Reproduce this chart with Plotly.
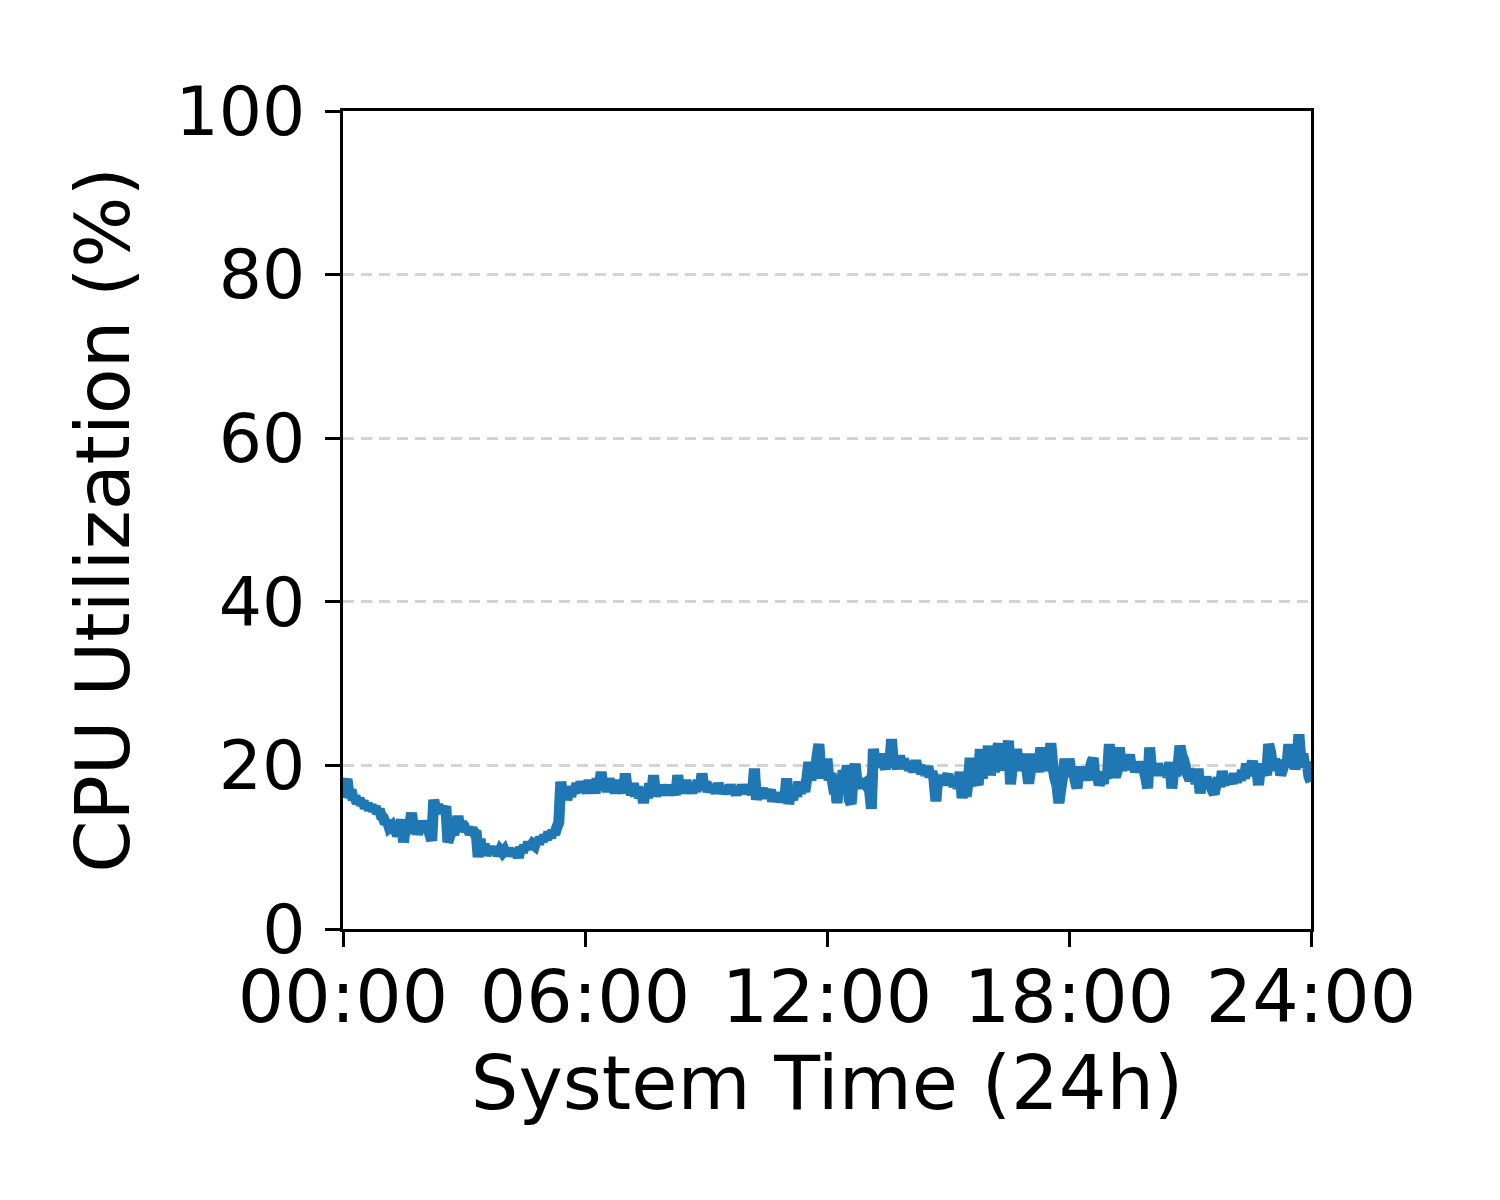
import numpy as np
import plotly.graph_objects as go

# sampling grid: one sample every 0.05 h (3 min), 00:00 .. 24:00
hours = np.round(np.arange(481) * 0.05, 2)

cpu = [
    # 00h
    16.0, 17.6, 18.3, 16.4, 17.0, 15.8, 16.2, 15.4, 15.9, 15.2, 15.6, 14.8, 15.3, 14.6, 15.1, 14.5, 14.9, 14.2, 14.6, 13.8,
    # 01h
    13.6, 12.9, 13.2, 12.4, 12.6, 11.8, 12.2, 11.4, 12.0, 13.4, 10.6, 12.6, 11.8, 12.4, 14.2, 12.2, 12.8, 11.6, 12.4, 12.0,
    # 02h
    13.2, 12.4, 12.8, 11.6, 10.8, 15.8, 14.6, 15.2, 14.2, 14.8, 14.4, 15.0, 10.6, 11.4, 12.0, 11.6, 12.4, 13.8, 12.2, 12.9,
    # 03h
    12.6, 12.0, 12.4, 11.6, 12.2, 11.8, 12.0, 8.8, 11.0, 9.2, 10.4, 9.0, 9.8, 9.4, 10.0, 9.2, 9.8, 9.0, 9.6, 9.3,
    # 04h
    9.6, 9.0, 9.8, 9.2, 9.6, 9.0, 9.8, 8.7, 10.0, 9.4, 10.2, 9.8, 10.6, 10.0, 10.4, 10.2, 11.0, 10.4, 11.2, 10.8,
    # 05h
    11.4, 11.0, 11.8, 11.2, 12.0, 11.6, 12.4, 13.0, 18.0, 16.2, 17.4, 15.8, 16.8, 16.2, 17.4, 16.6, 17.8, 16.8, 18.0, 17.2,
    # 06h
    17.6, 16.6, 18.2, 16.8, 17.8, 16.6, 18.4, 17.0, 19.2, 17.2, 18.0, 16.8, 18.4, 17.0, 17.8, 16.6, 18.2, 16.8, 17.6, 16.6,
    # 07h
    19.0, 17.0, 17.6, 16.4, 17.8, 16.2, 17.4, 16.0, 17.0, 15.4, 17.2, 16.0, 17.8, 16.4, 18.8, 16.2, 17.4, 16.4, 17.6, 16.6,
    # 08h
    17.4, 16.4, 17.6, 16.6, 17.2, 16.4, 18.8, 16.8, 17.8, 16.6, 18.2, 16.8, 17.6, 16.6, 17.8, 16.8, 18.2, 17.0, 19.0, 17.2,
    # 09h
    18.0, 16.8, 17.6, 16.8, 17.4, 16.6, 17.8, 16.8, 17.4, 16.6, 17.2, 16.6, 17.6, 16.8, 17.2, 16.4, 17.4, 16.6, 17.6, 16.8,
    # 10h
    17.2, 16.6, 17.6, 16.4, 19.6, 15.8, 17.0, 16.2, 17.2, 16.0, 16.8, 16.4, 17.0, 15.6, 16.6, 15.8, 16.4, 15.6, 16.2, 15.8,
    # 11h
    18.4, 15.3, 16.6, 15.8, 17.2, 16.2, 18.0, 16.6, 17.6, 16.8, 18.4, 20.4, 18.2, 19.6, 18.4, 21.0, 22.6, 18.8, 20.6, 18.4,
    # 12h
    20.8, 18.2, 19.0, 17.6, 17.8, 15.4, 18.6, 17.2, 19.4, 18.0, 20.0, 15.8, 15.3, 18.4, 20.2, 17.6, 18.4, 17.2, 18.2, 17.8,
    # 13h
    18.0, 17.2, 14.7, 22.0, 20.2, 21.0, 19.8, 21.4, 20.2, 19.6, 21.0, 19.8, 23.2, 19.8, 20.4, 19.6, 21.2, 19.8, 20.8, 19.6,
    # 14h
    20.4, 19.4, 20.2, 19.2, 20.6, 19.4, 20.0, 19.0, 19.8, 18.8, 19.9, 18.6, 19.2, 18.4, 15.6, 18.8, 17.6, 18.6, 17.8, 18.4,
    # 15h
    18.9, 17.6, 18.6, 17.4, 18.4, 17.2, 19.2, 16.0, 18.2, 16.2, 18.0, 20.9, 18.6, 19.4, 18.2, 17.6, 22.0, 18.4, 20.6, 19.2,
    # 16h
    22.4, 18.8, 20.4, 19.2, 21.0, 22.7, 19.4, 20.8, 19.6, 21.2, 23.0, 17.7, 20.2, 19.4, 22.0, 19.8, 20.6, 19.4, 21.4, 19.6,
    # 17h
    17.8, 19.6, 21.4, 19.4, 20.6, 19.2, 22.2, 19.6, 21.0, 19.4, 20.2, 22.7, 19.8, 18.4, 17.6, 15.4, 17.2, 18.8, 20.8, 18.6,
    # 18h
    20.8, 19.2, 19.8, 18.2, 17.2, 19.6, 18.4, 19.8, 18.2, 19.4, 18.6, 20.2, 20.9, 18.2, 19.0, 17.6, 18.4, 17.8, 19.2, 18.4,
    # 19h
    22.6, 18.8, 19.6, 18.6, 19.4, 22.2, 19.4, 20.4, 19.6, 20.2, 21.3, 19.6, 20.4, 19.2, 20.0, 19.4, 20.4, 19.6, 18.6, 17.2,
    # 20h
    22.2, 19.2, 19.8, 18.8, 20.2, 19.2, 19.8, 18.8, 19.6, 18.6, 20.4, 17.2, 19.4, 18.8, 19.6, 22.4, 21.2, 20.6, 19.4, 18.8,
    # 21h
    18.9, 18.2, 18.8, 17.8, 19.6, 16.6, 18.4, 17.2, 18.6, 17.4, 18.2, 17.0, 16.5, 17.8, 18.4, 17.4, 19.3, 17.6, 18.6, 17.8,
    # 22h
    18.6, 17.8, 19.0, 18.0, 18.8, 18.2, 19.4, 18.4, 20.2, 18.8, 19.6, 20.5, 19.2, 19.8, 17.6, 20.2, 19.0, 19.4, 18.8, 22.6,
    # 23h
    21.6, 19.6, 20.8, 19.4, 20.4, 18.8, 19.6, 20.6, 19.8, 22.6, 20.2, 21.0, 19.6, 20.4, 23.8, 20.6, 21.4, 19.8, 20.4, 18.6,
    # 24h
    18.0,
]

x_tickvals = [0, 6, 12, 18, 24]
x_ticktext = ["00:00", "06:00", "12:00", "18:00", "24:00"]
y_tickvals = [0, 20, 40, 60, 80, 100]

FONT = "DejaVu Sans"

fig = go.Figure()
fig.add_trace(go.Scatter(
    x=hours, y=cpu, mode="lines",
    line=dict(color="#1f77b4", width=11, simplify=False),
    showlegend=False,
))

fig.update_layout(
    width=1500, height=1200,
    margin=dict(l=335, r=197, t=103, b=279),
    paper_bgcolor="white", plot_bgcolor="white",
    font=dict(family=FONT, size=70, color="black"),
)
fig.update_xaxes(
    range=[0, 24], tickvals=x_tickvals, ticktext=x_ticktext,
    showgrid=False, zeroline=False,
    showline=True, linecolor="black", linewidth=3, mirror=True,
    ticks="outside", ticklen=15, tickwidth=2.5, tickcolor="black",
    tickfont=dict(family=FONT, size=73),
    ticklabelstandoff=-13,
    title=dict(text="System Time (24h)", font=dict(family=FONT, size=75), standoff=18),
)
fig.update_yaxes(
    range=[0, 100], tickvals=y_tickvals,
    showgrid=True, gridcolor="#d4d4d4", gridwidth=2.5, griddash="11px,7px",
    zeroline=False,
    showline=True, linecolor="black", linewidth=3, mirror=True,
    ticks="outside", ticklen=15, tickwidth=2.5, tickcolor="black",
    tickfont=dict(family=FONT, size=68),
    ticklabelstandoff=6,
    title=dict(text="CPU Utilization (%)", font=dict(family=FONT, size=75), standoff=22),
)

fig.write_html("out.html")
